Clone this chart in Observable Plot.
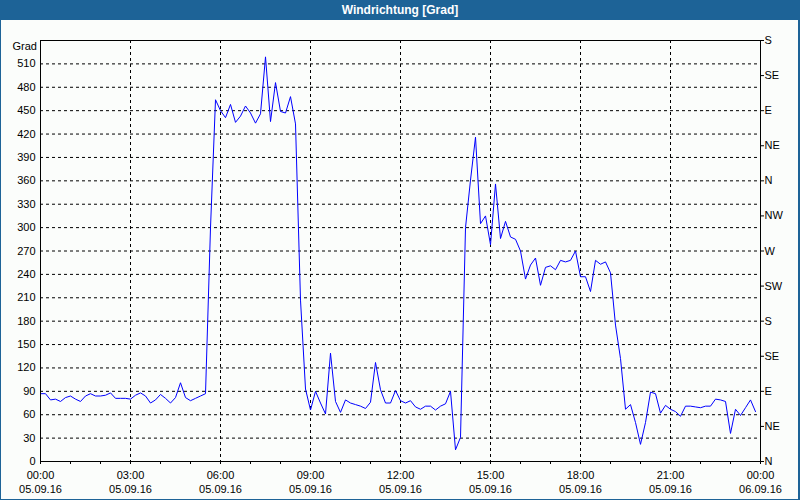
<!DOCTYPE html>
<html>
<head>
<meta charset="utf-8">
<script src="https://cdn.jsdelivr.net/npm/d3@7"></script>
<script src="https://cdn.jsdelivr.net/npm/@observablehq/plot@0.6"></script>
<style>
  html, body { margin: 0; padding: 0; background: #fbfdfb; }
  #win { position: relative; width: 800px; height: 500px; background: #fbfdfb; overflow: hidden; }
  #title { position: absolute; left: 0; top: 0; width: 800px; height: 20px; background: #1d6397; color: #ffffff;
           font: bold 12px "Liberation Sans", Arial, sans-serif; text-align: center; line-height: 20px; }
  #chart { position: absolute; left: 0; top: 20px; }
  #grad { position: absolute; left: 0; top: 40px; width: 37px; text-align: right;
          font: 11px "Liberation Sans", Arial, sans-serif; line-height: 12px; color: #000; }
  #border { position: absolute; left: 0; top: 0; width: 800px; height: 500px; box-sizing: border-box;
            border-left: 1px solid #1d6397; border-right: 2px solid #1d6397; border-bottom: 1px solid #1d6397;
            pointer-events: none; }
</style>
</head>
<body>
<div id="win">
  <div id="title">Windrichtung [Grad]</div>
  <div id="chart"></div>
  <div id="grad">Grad</div>
  <div id="border"></div>
</div>
<script>
// Wind direction in degrees, one reading every 10 minutes from 05.09.16 00:00 to 23:50
const windDeg = [
  87, 87, 79, 80, 77, 82, 84, 80, 77, 84,
  87, 84, 84, 85, 88, 81, 81, 81, 80, 85,
  88, 84, 75, 79, 86, 81, 75, 82, 101, 82,
  78, 81, 84, 87, 300, 464, 450, 441, 458, 435,
  443, 456, 447, 434, 446, 519, 436, 486, 449, 447,
  468, 433, 207, 93, 66, 90, 75, 61, 139, 77,
  63, 79, 75, 73, 71, 68, 76, 127, 92, 75,
  75, 91, 78, 75, 78, 70, 67, 71, 71, 66,
  71, 74, 90, 15, 31, 300, 361, 416, 305, 315,
  278, 356, 286, 308, 288, 285, 270, 234, 252, 261,
  226, 249, 251, 246, 258, 256, 258, 270, 237, 237,
  218, 258, 253, 256, 242, 175, 132, 67, 73, 50,
  22, 50, 89, 87, 62, 72, 67, 64, 58, 71,
  71, 70, 69, 71, 71, 80, 79, 77, 36, 67,
  59, 69, 79, 64
];
const sampleMinutes = 10;

// Axis ticks and labels
const yTicks = [0, 30, 60, 90, 120, 150, 180, 210, 240, 270, 300, 330, 360, 390, 420, 450, 480, 510];
const compassTicks = [0, 45, 90, 135, 180, 225, 270, 315, 360, 405, 450, 495, 540];
const compassLabels = ["N", "NE", "E", "SE", "S", "SW", "W", "NW", "N", "NE", "E", "SE", "S"];
const xMajorTicks = [0, 3, 6, 9, 12, 15, 18, 21, 24];
const xTimeLabels = ["00:00", "03:00", "06:00", "09:00", "12:00", "15:00", "18:00", "21:00", "00:00"];
const xDateLabels = ["05.09.16", "05.09.16", "05.09.16", "05.09.16", "05.09.16", "05.09.16", "05.09.16", "05.09.16", "06.09.16"];
const xMinorTicks = [0,1,2,3,4,5,6,7,8,9,10,11,12,13,14,15,16,17,18,19,20,21,22,23,24];

const data = windDeg.map((v, i) => ({t: i * sampleMinutes / 60, v}));

const chart = Plot.plot({
  width: 800,
  height: 480,
  marginLeft: 40,
  marginRight: 40,
  marginTop: 20,
  marginBottom: 39,
  style: {background: "transparent", fontFamily: "'Liberation Sans', Arial, sans-serif", fontSize: "11px", color: "#000"},
  x: {domain: [0, 24]},
  y: {domain: [0, 540]},
  marks: [
    Plot.gridX(xMajorTicks, {stroke: "#000", strokeOpacity: 1, strokeDasharray: "3,3"}),
    Plot.gridY(yTicks, {stroke: "#000", strokeOpacity: 1, strokeDasharray: "3,3"}),
    Plot.axisY(yTicks, {anchor: "left", tickSize: 0, tickPadding: 5, label: null}),
    Plot.axisY(compassTicks, {anchor: "right", tickSize: 3, tickPadding: 1, label: null,
      tickFormat: d => compassLabels[compassTicks.indexOf(d)]}),
    Plot.axisX(xMinorTicks, {anchor: "bottom", tickSize: 3, tickFormat: () => "", label: null}),
    Plot.axisX(xMajorTicks, {anchor: "bottom", tickSize: 3, tickPadding: 4, label: null, lineHeight: 1.3,
      tickFormat: d => { const k = xMajorTicks.indexOf(d); return xTimeLabels[k] + "\n" + xDateLabels[k]; }}),
    Plot.line(data, {x: "t", y: "v", stroke: "#0000ff", strokeWidth: 1}),
    Plot.frame({stroke: "#000"})
  ]
});
document.getElementById("chart").appendChild(chart);
</script>
</body>
</html>
